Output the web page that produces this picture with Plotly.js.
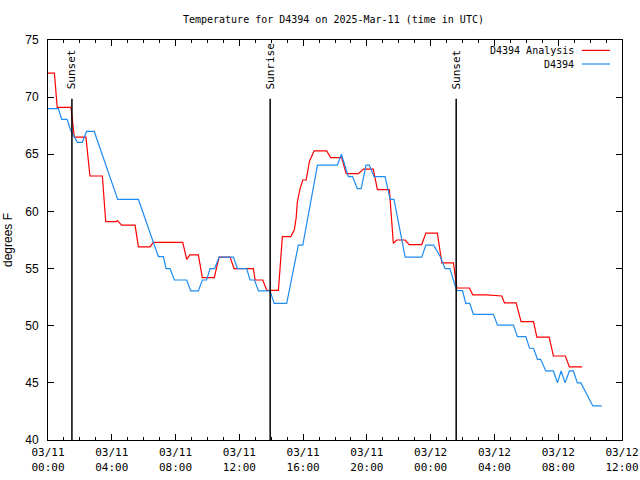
<!DOCTYPE html>
<html>
<head>
<meta charset="utf-8">
<script src="https://cdn.plot.ly/plotly-3.0.1.min.js"></script>
<style>html,body{margin:0;padding:0;background:#fff;}#chart{width:640px;height:480px;}</style>
</head>
<body>
<div id="chart"></div>
<script>
// Hours after 2025-03-11 00:00 UTC
const analysisHours = [0,0.4,0.58,1.44,1.65,2.38,2.63,3.41,3.62,4.27,4.35,4.62,5.46,5.67,6.4,6.6,8.45,8.7,8.9,9.43,9.68,10.43,10.73,11.42,11.67,12.88,12.99,13.47,13.72,14.45,14.7,15.23,15.45,15.56,15.64,15.81,15.98,16.19,16.4,16.69,17.48,17.73,18.42,18.7,19.47,19.78,20.4,20.66,21.41,21.66,21.87,22.4,22.65,23.44,23.7,24.42,24.7,25.43,25.64,26.43,26.64,27.52,28.46,28.63,29.36,29.67,30.45,30.66,31.43,31.7,32.45,32.7,33.5];
const analysisTemp  = [72.1,72.1,69.1,69.1,66.5,66.5,63.1,63.1,59.1,59.1,59.2,58.8,58.8,56.9,56.9,57.3,57.3,55.8,56.2,56.2,54.2,54.2,56.0,56.0,55.0,55.0,54.0,54.0,53.1,53.1,57.8,57.8,58.4,59.4,60.85,62.0,62.75,62.75,64.4,65.3,65.3,64.7,64.7,63.3,63.3,63.7,63.7,61.9,61.9,57.2,57.5,57.5,57.1,57.1,58.1,58.1,55.5,55.5,53.3,53.3,52.7,52.7,52.6,52.0,52.0,50.35,50.35,49.0,49.0,47.35,47.35,46.4,46.4];

const obsHours = [0,0.65,0.86,1.2,1.42,1.65,1.85,2.15,2.42,2.9,4.37,5.67,6.92,7.24,7.4,7.65,7.93,8.7,8.95,9.43,9.68,9.95,10.16,10.45,10.73,11.63,11.88,12.46,12.67,12.95,13.2,13.93,14.18,14.97,15.7,15.98,16.9,18.15,18.4,18.84,19.1,19.4,19.64,19.95,20.15,20.45,21.14,21.46,21.7,22.4,23.44,23.7,24.18,24.6,24.9,25.2,25.64,26.0,26.2,26.45,26.68,27.94,28.19,29.19,29.44,29.97,30.2,30.45,30.7,30.9,31.22,31.7,31.95,32.18,32.43,32.7,32.95,33.2,33.42,34.17,34.73];
const obsTemp  = [69.0,69.0,68.05,68.05,67.1,66.5,66.05,66.05,67.0,67.0,61.05,61.05,56.05,56.05,55.0,55.0,54.0,54.0,53.05,53.05,54.0,54.0,55.0,55.0,56.0,56.0,55.0,55.0,54.0,54.0,53.05,53.05,51.95,51.95,57.05,57.05,64.05,64.05,65.0,63.05,63.05,62.0,62.0,64.05,64.05,63.05,63.05,61.05,61.05,56.0,56.0,57.05,57.05,56.05,55.0,55.0,53.07,53.07,51.96,51.96,51.0,51.0,50.05,50.05,49.04,49.04,48.03,48.03,47.06,47.06,46.04,46.04,45.0,46.04,45.0,46.04,46.04,45.0,45.0,42.98,42.98];

const sunTimes  = ["2025-03-11 01:30","2025-03-11 13:56","2025-03-12 01:36"];
const sunLabels = ["Sunset","Sunrise","Sunset"];

const tickVals = ["2025-03-11 00:00","2025-03-11 04:00","2025-03-11 08:00","2025-03-11 12:00","2025-03-11 16:00","2025-03-11 20:00","2025-03-12 00:00","2025-03-12 04:00","2025-03-12 08:00","2025-03-12 12:00"];
const tickText = ["03/11<br>00:00","03/11<br>04:00","03/11<br>08:00","03/11<br>12:00","03/11<br>16:00","03/11<br>20:00","03/12<br>00:00","03/12<br>04:00","03/12<br>08:00","03/12<br>12:00"];

const seriesNames = ["D4394 Analysis","D4394"];
const seriesColors = ["#ff0000","#1e8cf0"];

function toTime(h){
  const ms = Date.UTC(2025,2,11,0,0,0) + Math.round(h*3600000);
  const d = new Date(ms);
  const p = n => String(n).padStart(2,'0');
  return d.getUTCFullYear()+'-'+p(d.getUTCMonth()+1)+'-'+p(d.getUTCDate())+' '+p(d.getUTCHours())+':'+p(d.getUTCMinutes())+':'+p(d.getUTCSeconds());
}

const mono = "DejaVu Sans Mono, monospace";
const traces = [
  {x: analysisHours.map(toTime), y: analysisTemp, type:'scatter', mode:'lines', name: seriesNames[0], line:{color:seriesColors[0], width:1.2}},
  {x: obsHours.map(toTime), y: obsTemp, type:'scatter', mode:'lines', name: seriesNames[1], line:{color:seriesColors[1], width:1.2}}
];

const shapes = sunTimes.map(t => ({type:'line', xref:'x', yref:'y', x0:t, x1:t, y0:40, y1:69.85, line:{color:'#000', width:1.5}}));
const annotations = sunTimes.map((t,i) => ({xref:'x', yref:'y', x:t, y:70.5, text:sunLabels[i], textangle:-90, showarrow:false, xanchor:'center', yanchor:'bottom', font:{family:mono, size:11, color:'#000'}}));

// manual legend (text left, line sample right)
const legY = [0.974, 0.940];
seriesNames.forEach((n,i) => {
  annotations.push({xref:'paper', yref:'paper', x:0.919, y:legY[i], text:n, showarrow:false, xanchor:'right', yanchor:'middle', font:{family:mono, size:10, color:'#000'}});
  shapes.push({type:'line', xref:'paper', yref:'paper', x0:0.930, x1:0.979, y0:legY[i], y1:legY[i], line:{color:seriesColors[i], width:1.2}});
});

const layout = {
  width:640, height:480,
  margin:{l:48, r:18, t:40, b:40},
  paper_bgcolor:'#fff', plot_bgcolor:'#fff',
  showlegend:false,
  title:{text:'Temperature for D4394 on 2025-Mar-11 (time in UTC)', font:{family:mono, size:10, color:'#000'}, x:0.521, xanchor:'center', y:0.96, yanchor:'middle'},
  xaxis:{
    type:'date', range:['2025-03-11 00:00','2025-03-12 12:00'],
    tickmode:'array', tickvals:tickVals, ticktext:tickText,
    ticks:'inside', ticklen:6, tickcolor:'#000', tickwidth:1,
    showline:true, linecolor:'#000', linewidth:1, mirror:'ticks',
    showgrid:false, zeroline:false,
    tickfont:{family:mono, size:11, color:'#000'},
    ticklabelstandoff:2,
    minor:{dtick:3600000, ticks:'inside', ticklen:3, tickcolor:'#000', showgrid:false}
  },
  yaxis:{
    range:[40,75], dtick:5, tick0:40,
    ticks:'inside', ticklen:6, tickcolor:'#000', tickwidth:1,
    showline:true, linecolor:'#000', linewidth:1, mirror:'ticks',
    showgrid:false, zeroline:false,
    tickfont:{family:'Liberation Sans, Arial, sans-serif', size:12, color:'#000'},
    ticklabelstandoff:6,
    title:{text:'degrees F', font:{family:'Liberation Sans, Arial, sans-serif', size:12, color:'#000'}, standoff:10}
  },
  shapes: shapes,
  annotations: annotations
};

Plotly.newPlot('chart', traces, layout, {staticPlot:true, displayModeBar:false});
</script>
</body>
</html>
